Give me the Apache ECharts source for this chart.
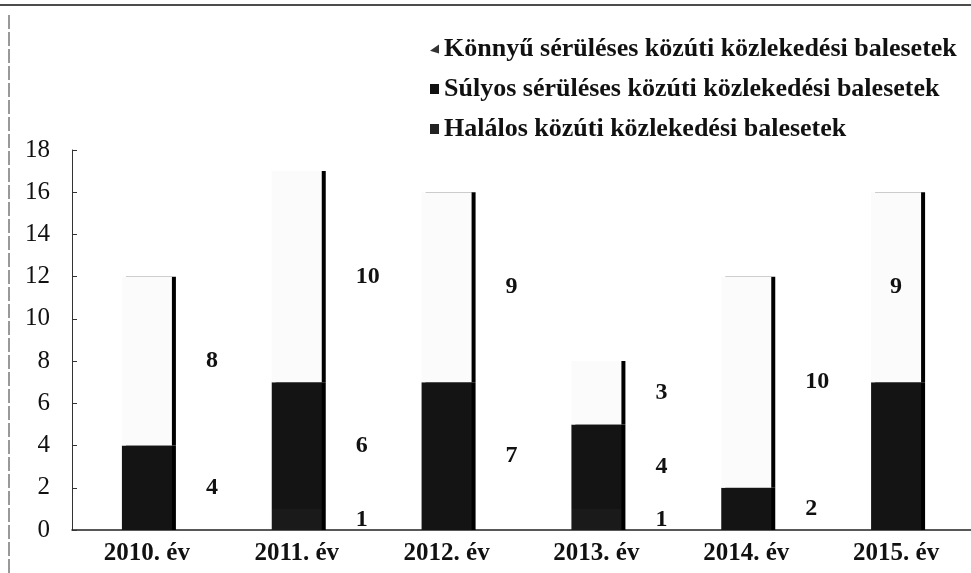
<!DOCTYPE html>
<html>
<head>
<meta charset="utf-8">
<script src="https://cdn.jsdelivr.net/npm/echarts@6/dist/echarts.min.js"></script>
<style>html,body{margin:0;padding:0;background:#fff;}#c{width:971px;height:573px;}</style>
</head>
<body>
<div id="c"></div>
<script>
const categories = ['2010. év', '2011. év', '2012. év', '2013. év', '2014. év', '2015. év'];
const halalos = [0, 1, 0, 1, 0, 0];
const sulyos = [4, 6, 7, 4, 2, 7];
const konnyu = [8, 10, 9, 3, 10, 9];
const yTicks = [0, 2, 4, 6, 8, 10, 12, 14, 16, 18];
const names = ['Halálos közúti közlekedési balesetek', 'Súlyos sérüléses közúti közlekedési balesetek', 'Könnyű sérüléses közúti közlekedési balesetek'];

const serif = '"Liberation Serif", "DejaVu Serif", serif';
const labelBase = {
  show: true, position: 'right', distance: 34,
  fontFamily: serif, fontWeight: 'bold', fontSize: 24, color: '#111',
  formatter: p => p.value === 0 ? '' : String(p.value)
};
function mk(name, data, color) {
  return {
    name: name, type: 'bar', stack: 'a', data: data, barWidth: 50,
    itemStyle: { color: color, shadowColor: '#000', shadowOffsetX: 4, shadowBlur: 0 },
    label: labelBase
  };
}
// 2015: the Könnyű label sits inside the bar, the Súlyos label falls outside the picture
const konData = konnyu.map((v, i) => i === 5 ? { value: v, label: { position: 'inside', distance: 0 } } : v);
const sulData = sulyos.map((v, i) => i === 5 ? { value: v, label: { show: false } } : v);

const chart = echarts.init(document.getElementById('c'));
chart.setOption({
  animation: false,
  grid: { left: 72, right: 0, top: 150, bottom: 43 },
  legend: {
    orient: 'vertical', left: 425, top: 31, itemGap: 14, itemWidth: 9, itemHeight: 10,
    icon: 'rect',
    textStyle: { fontFamily: serif, fontWeight: 'bold', fontSize: 26, color: '#111' },
    data: [
      { name: names[2], icon: 'path://M10,0 L10,10 L0,7 Z', itemStyle: { color: '#333' } },
      { name: names[1], itemStyle: { color: '#111' } },
      { name: names[0], itemStyle: { color: '#222' } }
    ]
  },
  xAxis: {
    type: 'category', data: categories,
    axisLine: { lineStyle: { color: '#222', width: 1.5 } },
    axisTick: { show: false },
    axisLabel: { fontFamily: serif, fontWeight: 'bold', fontSize: 25, color: '#111', margin: 11 }
  },
  yAxis: {
    type: 'value', min: 0, max: 18, interval: 2,
    axisLine: { show: true, lineStyle: { color: '#333', width: 1 } },
    axisTick: { show: true, inside: true, length: 5, lineStyle: { color: '#333' } },
    splitLine: { show: false },
    axisLabel: { fontFamily: serif, fontSize: 25, color: '#111', margin: 22, formatter: v => yTicks.includes(v) ? String(v) : '' }
  },
  graphic: [
    { type: 'line', shape: { x1: 0, y1: 5, x2: 971, y2: 5 }, style: { stroke: '#111', lineWidth: 1.5 } },
    { type: 'line', shape: { x1: 9, y1: 15, x2: 9, y2: 573 }, style: { stroke: '#333', lineWidth: 1, lineDash: [14, 3] } }
  ],
  series: [
    mk(names[0], halalos, '#1a1a1a'),
    Object.assign(mk(names[1], sulData, '#141414')),
    mk(names[2], konData, '#fbfbfb')
  ]
});
</script>
</body>
</html>
